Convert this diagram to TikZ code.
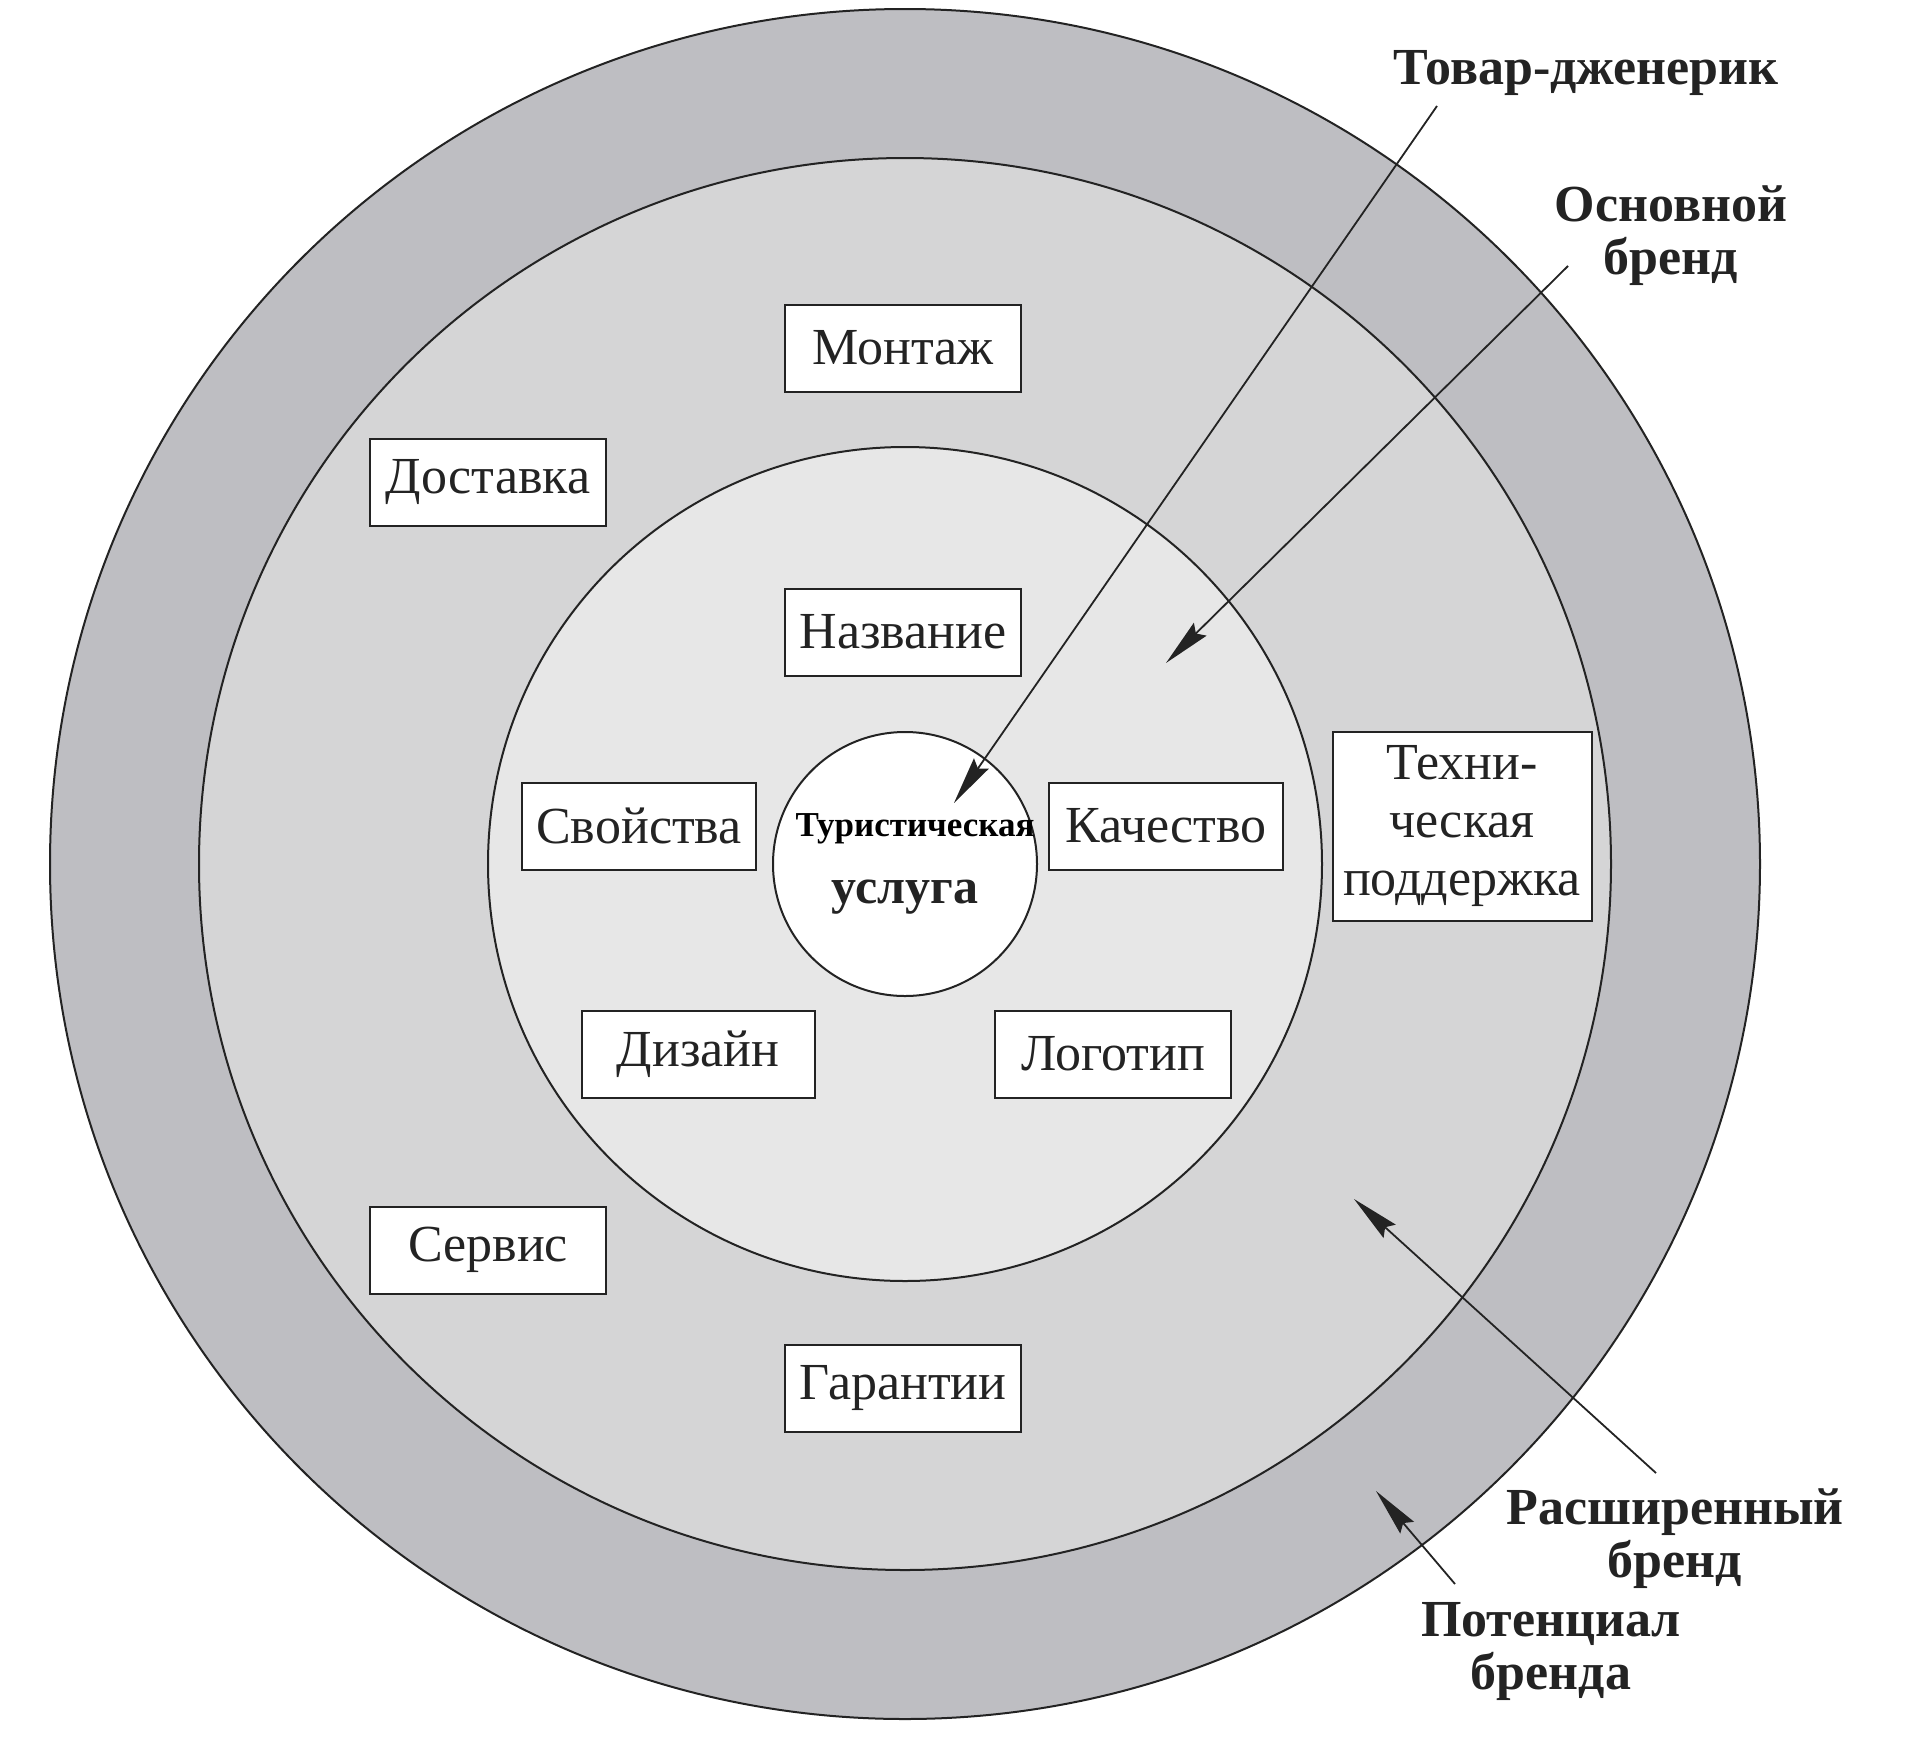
\documentclass[tikz,border=0pt]{standalone}
\usepackage{fontspec}
\setmainfont{Liberation Serif}
\usetikzlibrary{arrows.meta}
\definecolor{ringA}{RGB}{190,190,194}
\definecolor{ringB}{RGB}{213,213,214}
\definecolor{ringC}{RGB}{231,231,231}
\definecolor{ink}{RGB}{35,35,35}
\begin{document}
\begin{tikzpicture}[x=0.5pt,y=-0.5pt,
  ring/.style={circle,draw=ink,line width=1pt,inner sep=0pt},
  itembox/.style={draw=ink,fill=white,line width=1pt,minimum width=118pt,minimum height=43.5pt,inner sep=0pt,font=\fontsize{26}{29}\selectfont,text=ink,align=center},
  lbl/.style={font=\bfseries\fontsize{26}{26.5}\selectfont,align=center,text=ink},
  pointer/.style={draw=ink,line width=0.9pt,-{Stealth[length=24pt,width=9pt,inset=3pt]}}]
\useasboundingbox (0,0) rectangle (1913,1741);
% rings
\node[ring,fill=ringA,minimum size=855pt] (potential) at (905,864) {};
\node[ring,fill=ringB,minimum size=706pt] (extended) at (905,864) {};
\node[ring,fill=ringC,minimum size=417pt] (basic) at (905,864) {};
\node[ring,fill=white,minimum size=132pt] (core) at (905,864) {};
% core text
\node[font=\bfseries\fontsize{17.5}{19}\selectfont,text=black] (tur) at (915,829) {Туристическая};
\node[font=\bfseries\fontsize{25}{27}\selectfont,text=ink] (usl) at (905,897) {услуга};
% boxes
\node[itembox] (montazh) at (903,348) {Монтаж};
\node[itembox] (dostavka) at (488,482) {Доставка};
\node[itembox] (nazvanie) at (903,632) {Название};
\node[itembox,minimum width=117pt] (svoistva) at (639,826) {Свойства};
\node[itembox,minimum width=117pt] (kachestvo) at (1166,826) {Качество};
\node[itembox,minimum width=116.5pt] (dizain) at (698,1054) {Дизайн};
\node[itembox,minimum width=118pt] (logotip) at (1113,1054) {Логотип};
\node[itembox] (servis) at (488,1250) {Сервис};
\node[itembox] (garantii) at (903,1388) {Гарантии};
\node[itembox,minimum width=129.5pt,minimum height=94.5pt] (tech) at (1462,826) {Техни-\\ческая\\поддержка};
% labels
\node[lbl] (generic) at (1586,73) {Товар-дженерик};
\node[lbl] (osnovnoi) at (1671,236) {Основной\\бренд};
\node[lbl] (rasshir) at (1675,1539) {Расширенный\\бренд};
\node[lbl] (potenc) at (1551,1651) {Потенциал\\бренда};
% pointer ends
\coordinate (g1) at (1437,106);
\coordinate (g2) at (954,803);
\coordinate (o1) at (1568,266);
\coordinate (o2) at (1166,663);
\coordinate (r1) at (1656,1473);
\coordinate (r2) at (1354,1199);
\coordinate (p1) at (1455,1584);
\coordinate (p2) at (1376,1491);
\draw[pointer] (g1) -- (g2);
\draw[pointer] (o1) -- (o2);
\draw[pointer] (r1) -- (r2);
\draw[pointer] (p1) -- (p2);
\end{tikzpicture}
\end{document}
